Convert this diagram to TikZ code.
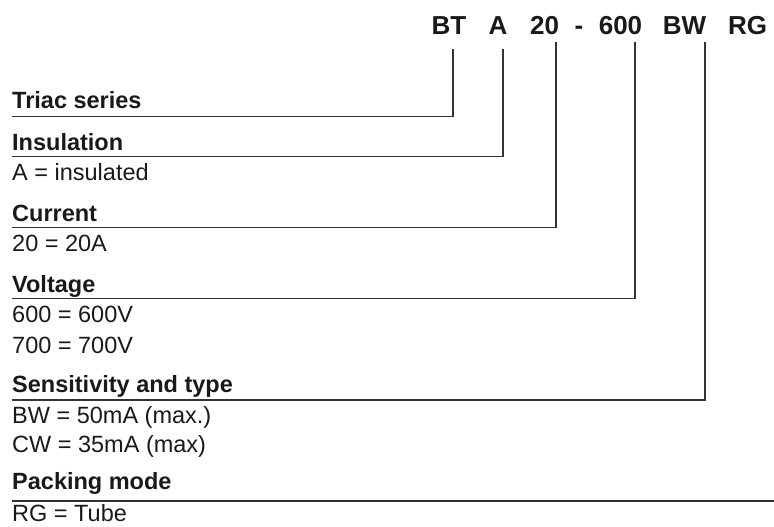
\documentclass[tikz,border=0pt]{standalone}
\usepackage{fontspec}
\setmainfont{Liberation Sans}
\usepackage{tikz}
\usetikzlibrary{calc}

\begin{document}
\begin{tikzpicture}[x=1pt, y=-1pt,
    code/.style={font=\bfseries\fontsize{26}{30}\selectfont, text=black!90, anchor=base, inner sep=0pt},
    head/.style={font=\bfseries\fontsize{23.5}{28}\selectfont, text=black!90, anchor=base west, inner sep=0pt},
    item/.style={font=\fontsize{23.5}{28}\selectfont, text=black!90, anchor=base west, inner sep=0pt},
    lead/.style={line width=1.1pt, black!80}]

    \useasboundingbox (0,0) rectangle (774,527);

    % Part number along the top
    \node[code] (cBT)   at (449,35)   {BT};
    \node[code] (cA)    at (498,35)   {A};
    \node[code] (c20)   at (544.5,35) {20};
    \node[code] (cDash) at (579,35)   {-};
    \node[code] (c600)  at (620.5,35) {600};
    \node[code] (cBW)   at (684.5,35) {BW};
    \node[code] (cRG)   at (747.5,35) {RG};

    % Tops of the leader lines, just under the part number
    \coordinate (tBT)  at (453,49);
    \coordinate (tA)   at (503,49);
    \coordinate (t20)  at (556,42);
    \coordinate (t600) at (635,42);
    \coordinate (tBW)  at (705,42);
    \coordinate (edge) at (774,501);

    % Headings and their values
    \node[head] (series)  at (12,109)   {Triac series};
    \node[head] (insul)   at (12,150.5) {Insulation};
    \node[item] (insulA)  at (12,180)   {A = insulated};
    \node[head] (current) at (12,221)   {Current};
    \node[item] (cur20)   at (12,251)   {20 = 20A};
    \node[head] (volt)    at (12,292)   {Voltage};
    \node[item] (volt600) at (12,322)   {600 = 600V};
    \node[item] (volt700) at (12,353)   {700 = 700V};
    \node[head] (sens)    at (12,392.7) {Sensitivity and type};
    \node[item] (sensBW)  at (12,423)   {BW = 50mA (max.)};
    \node[item] (sensCW)  at (12,452.7) {CW = 35mA (max)};
    \node[head] (pack)    at (12,489.5) {Packing mode};
    \node[item] (packRG)  at (12,521.5) {RG = Tube};

    % Leader lines from each field down to its heading
    \draw[lead] (tBT)  |- ([yshift=-7.5pt]series.base west);
    \draw[lead] (tA)   |- ([yshift=-6.2pt]insul.base west);
    \draw[lead] (t20)  |- ([yshift=-6.7pt]current.base west);
    \draw[lead] (t600) |- ([yshift=-6.7pt]volt.base west);
    \draw[lead] (tBW)  |- ([yshift=-7.3pt]sens.base west);
    \draw[lead] ([yshift=-11.5pt]pack.base west) -- (edge);

\end{tikzpicture}
\end{document}
